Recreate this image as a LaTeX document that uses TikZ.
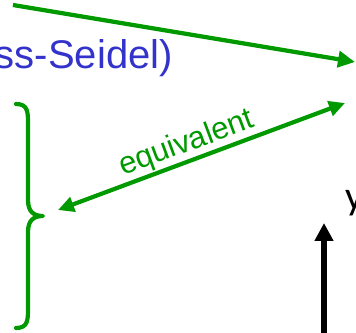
\documentclass[tikz,border=0pt]{standalone}
\usepackage{fontspec}
\setmainfont{Liberation Sans}
\newfontfamily\yfont{Carlito}
\usetikzlibrary{arrows.meta}
\definecolor{mygreen}{HTML}{009900}
\definecolor{myblue}{HTML}{3333CC}
\begin{document}
\begin{tikzpicture}[x=1pt,y=1pt,
  garrow/.style={draw=mygreen,line width=4.2pt,-{Triangle[length=17pt,width=16pt]}},
  gdarrow/.style={draw=mygreen,line width=4.2pt,{Triangle[length=16pt,width=15pt]}-{Triangle[length=16pt,width=15pt]}},
  brace/.style={draw=mygreen,line width=4.2pt,line cap=round,line join=round},
  barrow/.style={draw=black,line width=5.5pt,-{Triangle[length=18pt,width=18pt]}}]
\useasboundingbox (0,0) rectangle (356,332);
\coordinate (t1) at (13,327);
\coordinate (t2) at (355,270);
\coordinate (e1) at (58,122);
\coordinate (e2) at (345,229);
\coordinate (b1) at (324,-5);
\coordinate (b2) at (324,109);
\node[anchor=base east,inner sep=0pt,text=myblue,font=\fontsize{40}{44}\selectfont] (gs) at (173,263) {ss-Seidel)};
\node[anchor=base west,inner sep=0pt,font=\yfont\fontsize{40}{44}\selectfont] (y) at (345,122) {y};
\draw[garrow] (t1) -- (t2);
\draw[gdarrow] (e1) -- node[pos=0.47,sloped,above,inner sep=0.5pt,text=mygreen,font=\fontsize{31}{34}\selectfont] (eq) {equivalent} (e2);
\draw[brace] (16,228) .. controls (28,228) and (28,220) .. (28,208) -- (28,132) .. controls (28,120) and (34,116) .. (43,116) .. controls (34,116) and (28,112) .. (28,100) -- (28,24) .. controls (28,12) and (28,4) .. (16,4);
\draw[barrow] (b1) -- (b2);
\end{tikzpicture}
\end{document}
